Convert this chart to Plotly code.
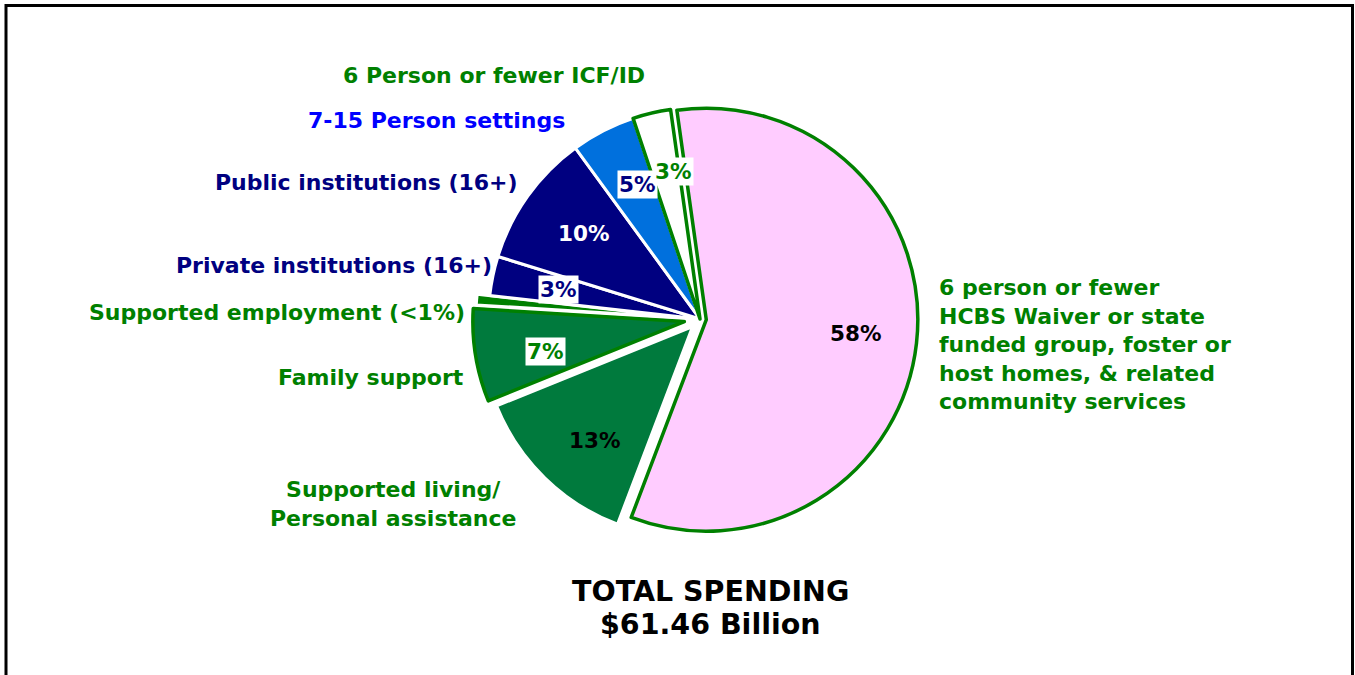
import plotly.graph_objects as go

W, H = 1355, 675

# ---- data ----
categories = [
    "6 person or fewer HCBS Waiver or state funded group, foster or host homes, & related community services",
    "Supported living/ Personal assistance",
    "Family support",
    "Supported employment (<1%)",
    "Private institutions (16+)",
    "Public institutions (16+)",
    "7-15 Person settings",
    "6 Person or fewer ICF/ID",
]
shares = [58.0, 13.1, 7.1, 0.8, 3.0, 10.2, 4.9, 2.9]
pct_labels = ["58%", "13%", "7%", "", "3%", "10%", "5%", "3%"]
total_title = ["TOTAL SPENDING", "$61.46 Billion"]

# ---- styles ----
GREEN = "#008000"
NAVY = "#000080"
fills = ["#FFCCFF", "#007A3D", "#007A3D", "#008000", "#000080", "#000080", "#0070DD", "#FFFFFF"]
line_colors = [GREEN, "#FFFFFF", GREEN, "#FFFFFF", "#FFFFFF", "#FFFFFF", "#FFFFFF", GREEN]
line_widths = [3.5, 3, 3.5, 3, 3, 3, 3, 3.5]
pulls = [0.03, 0.05, 0.075, 0.06, 0.0, 0.0, 0.0, 0.0]

FONT = "DejaVu Sans"

# pie geometry (pixels)
cx, cy, r = 700, 319, 211.5
maxpull = max(pulls)
half = r * (1 + maxpull)

fig = go.Figure(
    go.Pie(
        labels=categories,
        values=shares,
        sort=False,
        direction="clockwise",
        rotation=-8,
        pull=pulls,
        marker=dict(colors=fills, line=dict(color=line_colors, width=line_widths)),
        textinfo="none",
        hoverinfo="label+percent",
        showlegend=False,
        domain=dict(
            x=[(cx - half) / W, (cx + half) / W],
            y=[1 - (cy + half) / H, 1 - (cy - half) / H],
        ),
    )
)


def px(x, y):
    return x / W, 1 - y / H


annotations = []

# category labels: (text, x, y, xanchor, color)
cat_labels = [
    ("6 Person or fewer ICF/ID", 647, 75, "right", GREEN),
    ("7-15 Person settings", 567, 121, "right", "#0000FF"),
    ("Public institutions (16+)", 520, 182, "right", NAVY),
    ("Private institutions (16+)", 494, 265, "right", NAVY),
    ("Supported employment (<1%)", 467, 312, "right", GREEN),
    ("Family support", 466, 377, "right", GREEN),
    ("Supported living/<br>Personal assistance", 393, 504, "center", GREEN),
    ("6 person or fewer<br>HCBS Waiver or state<br>funded group, foster or<br>host homes, &amp; related<br>community services",
     937, 344, "left", GREEN),
]
for text, x, y, xa, col in cat_labels:
    ax, ay = px(x, y)
    annotations.append(dict(
        text=text, x=ax, y=ay, xref="paper", yref="paper",
        xanchor=xa, yanchor="middle", align=xa if xa != "center" else "center",
        showarrow=False, font=dict(family=FONT, size=22, color=col, weight="bold"),
    ))

# percentage labels: (index, x, y, color, boxed)
pct_pos = [
    (0, 855, 333, "#000000", False),
    (1, 594, 440, "#000000", False),
    (2, 545, 352, GREEN, True),
    (4, 558, 289, NAVY, True),
    (5, 583, 233, "#FFFFFF", False),
    (6, 637, 184, NAVY, True),
    (7, 673, 171, GREEN, True),
]
for i, x, y, col, boxed in pct_pos:
    ax, ay = px(x, y)
    a = dict(
        text=pct_labels[i], x=ax, y=ay, xref="paper", yref="paper",
        xanchor="center", yanchor="middle", showarrow=False,
        font=dict(family=FONT, size=21.5, color=col, weight="bold"),
    )
    if boxed:
        a["bgcolor"] = "#FFFFFF"
        a["borderpad"] = 1
    annotations.append(a)

# title
for text, y in zip(total_title, [591, 624]):
    ax, ay = px(710, y)
    annotations.append(dict(
        text=text, x=ax, y=ay, xref="paper", yref="paper",
        xanchor="center", yanchor="middle", showarrow=False,
        font=dict(family=FONT, size=28.5, color="#000000", weight="bold"),
    ))

fig.update_layout(
    width=W, height=H,
    margin=dict(l=0, r=0, t=0, b=0),
    paper_bgcolor="#FFFFFF",
    plot_bgcolor="#FFFFFF",
    showlegend=False,
    annotations=annotations,
    shapes=[dict(
        type="rect", xref="paper", yref="paper",
        x0=6 / W, x1=1352.5 / W, y0=-0.05, y1=1 - 5.5 / H,
        line=dict(color="#000000", width=3), fillcolor="rgba(0,0,0,0)",
    )],
)

fig.write_html(
    "out.html",
    config={"displayModeBar": False},
    post_script="document.body.style.margin='0';document.body.style.overflow='hidden';",
)
